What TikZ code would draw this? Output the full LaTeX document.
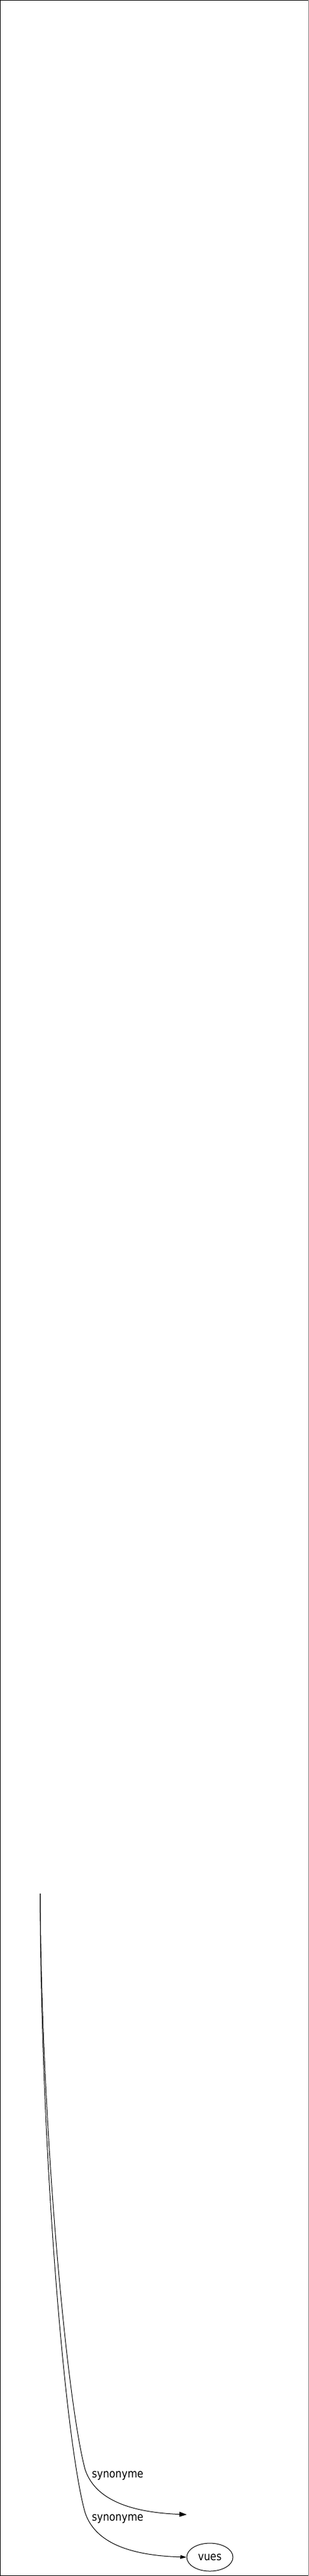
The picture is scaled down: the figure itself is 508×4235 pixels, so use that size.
\documentclass[tikz,border=0pt]{standalone}
\usepackage{fontspec}
\setmainfont{DejaVu Sans}
\newfontfamily\lblfont[FakeStretch=0.86]{DejaVu Sans}
\usetikzlibrary{shapes.geometric,arrows.meta}
\begin{document}
\begin{tikzpicture}[x=1pt,y=-1pt,
  edge/.style={line width=1pt, draw=black},
  lbl/.style={font={\lblfont\fontsize{19}{22}\selectfont}, inner sep=0pt, anchor=base west},
  ent/.style={ellipse, draw=black, line width=1pt, minimum width=76pt, minimum height=46pt, inner sep=0pt, font={\lblfont\fontsize{19}{22}\selectfont}}]
\useasboundingbox (0,0) rectangle (508,4235);
\fill[white] (0,0) rectangle (508,4235);
\draw[line width=1pt, black] (507.3,0.6) -- (0.6,0.6) -- (0.6,4234) -- (507.3,4234);
\draw[line width=1pt, gray] (507.3,0.6) -- (507.3,4234);
% nodes
\coordinate (src) at (66,3113);
\coordinate (k1) at (140,4060);
\coordinate (e1) at (307,4134);
\coordinate (k2) at (140,4131);
\node[ent] (vues) at (345,4204) {vues};
% connectors
\draw[edge, -{Triangle[length=12pt,width=8pt]}] (src) .. controls (68,3500) and (110,3950) .. (k1)
  .. controls (155,4105) and (205,4130) .. (e1);
\draw[edge, -{Triangle[length=10pt,width=6pt]}] (src) .. controls (67,3545) and (108,4020) .. (k2)
  .. controls (155,4176) and (205,4201) .. (vues.west);
% labels
\node[lbl] (l1) at (151,4073) {synonyme};
\node[lbl] (l2) at (151,4144) {synonyme};
\end{tikzpicture}
\end{document}
